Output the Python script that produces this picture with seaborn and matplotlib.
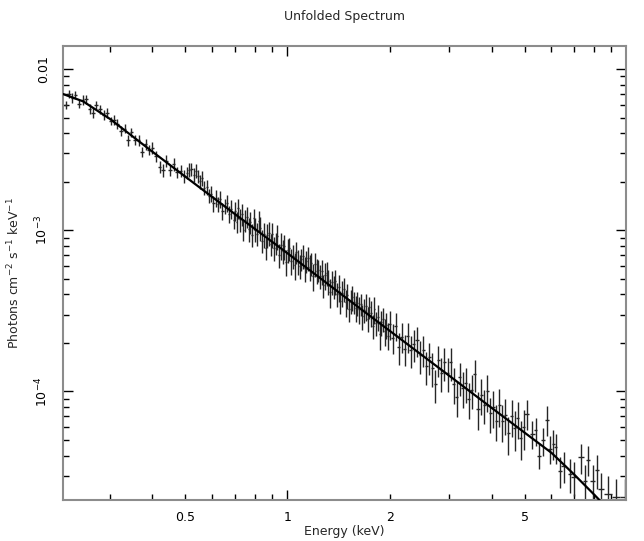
import numpy as np
import pandas as pd
import seaborn as sns
import matplotlib
matplotlib.use("Agg")
import matplotlib.pyplot as plt
from matplotlib.ticker import LogLocator, FuncFormatter, NullFormatter

# ---- data ----
# energies (keV) of the spectral bins
energy_soft = [0.222, 0.227, 0.232, 0.237, 0.243, 0.249, 0.255, 0.261, 0.267, 0.273,
               0.280, 0.287, 0.294, 0.301, 0.308, 0.315, 0.323, 0.331, 0.339, 0.347,
               0.355, 0.364, 0.373, 0.382, 0.391, 0.400, 0.410, 0.420, 0.430, 0.440,
               0.451, 0.462, 0.473, 0.484, 0.496]
energy_low = [0.505, 0.513, 0.521, 0.529, 0.537, 0.545, 0.553, 0.561, 0.569, 0.578,
              0.587, 0.596, 0.605, 0.614, 0.623, 0.633, 0.643, 0.653, 0.663, 0.673,
              0.683, 0.694]
energy_mid = [0.700, 0.708, 0.716, 0.725, 0.733, 0.742, 0.750, 0.759, 0.768, 0.777,
              0.786, 0.795, 0.804, 0.813, 0.823, 0.832, 0.842, 0.852, 0.862, 0.872,
              0.882, 0.892, 0.902, 0.913, 0.923, 0.934, 0.945, 0.956, 0.967, 0.978,
              0.990, 1.001, 1.013, 1.025, 1.037, 1.049, 1.061, 1.073, 1.086, 1.098,
              1.111, 1.124, 1.137, 1.150, 1.164, 1.177, 1.191, 1.205, 1.219, 1.233,
              1.247, 1.262, 1.276, 1.291, 1.306, 1.321, 1.337, 1.352, 1.368, 1.384,
              1.400, 1.416, 1.433, 1.449, 1.466, 1.483, 1.500, 1.518, 1.535, 1.553,
              1.571, 1.589, 1.608, 1.626, 1.645, 1.664, 1.684, 1.703, 1.723, 1.743,
              1.763, 1.784, 1.804, 1.825, 1.847, 1.868, 1.890, 1.912, 1.934, 1.956,
              1.979]
energy_high = [2.000, 2.042, 2.084, 2.128, 2.173, 2.218, 2.264, 2.312, 2.360, 2.409,
               2.460, 2.511, 2.564, 2.617, 2.672, 2.728, 2.785, 2.843, 2.902, 2.963,
               3.025, 3.088, 3.153, 3.219, 3.286, 3.355, 3.425, 3.497, 3.570, 3.644,
               3.721, 3.798, 3.878, 3.959, 4.041, 4.126, 4.212, 4.300, 4.390, 4.482,
               4.575, 4.671, 4.768, 4.868, 4.970]
energy_hard = [5.07, 5.27, 5.39, 5.51, 5.66, 5.81, 5.94, 6.08, 6.17, 6.36,
               6.53, 6.80, 6.97, 7.32, 7.52, 7.69, 7.93, 8.16, 8.39, 8.82,
               9.29, 9.85]

# log10 of the unfolded flux (photons cm^-2 s^-1 keV^-1)
logflux_soft = [-2.221, -2.153, -2.180, -2.162, -2.216, -2.189, -2.187, -2.246, -2.270, -2.223,
                -2.249, -2.283, -2.273, -2.322, -2.314, -2.339, -2.382, -2.369, -2.441, -2.393,
                -2.439, -2.442, -2.514, -2.466, -2.502, -2.488, -2.540, -2.607, -2.628, -2.569,
                -2.626, -2.592, -2.639, -2.630, -2.666]
logflux_low = [-2.644, -2.625, -2.620, -2.656, -2.631, -2.666, -2.696, -2.676, -2.736, -2.732,
               -2.788, -2.773, -2.834, -2.799, -2.839, -2.805, -2.880, -2.851, -2.832, -2.897,
               -2.867, -2.938]
logflux_mid = [-2.879, -2.947, -2.865, -2.933, -2.901, -2.999, -2.937, -2.915, -2.993, -2.950,
               -3.028, -2.926, -2.994, -3.022, -2.940, -2.988, -3.066, -3.024, -3.112, -3.030,
               -3.018, -3.086, -3.024, -3.112, -3.080, -3.038, -3.155, -3.093, -3.131, -3.099,
               -3.197, -3.125, -3.113, -3.191, -3.159, -3.217, -3.135, -3.193, -3.221, -3.179,
               -3.157, -3.235, -3.192, -3.170, -3.228, -3.206, -3.284, -3.212, -3.250, -3.248,
               -3.286, -3.254, -3.342, -3.280, -3.268, -3.316, -3.384, -3.322, -3.350, -3.317,
               -3.395, -3.353, -3.441, -3.389, -3.367, -3.445, -3.403, -3.491, -3.439, -3.417,
               -3.445, -3.483, -3.451, -3.489, -3.457, -3.535, -3.492, -3.470, -3.548, -3.476,
               -3.514, -3.592, -3.490, -3.578, -3.536, -3.644, -3.572, -3.550, -3.628, -3.586,
               -3.654]
logflux_high = [-3.583, -3.667, -3.592, -3.726, -3.660, -3.734, -3.659, -3.743, -3.707, -3.682,
                -3.776, -3.740, -3.844, -3.789, -3.853, -3.957, -3.802, -3.886, -3.820, -3.885,
                -3.819, -3.953, -4.037, -3.912, -3.976, -3.950, -4.045, -3.989, -3.893, -4.107,
                -4.022, -4.086, -4.000, -4.135, -4.099, -4.183, -4.087, -4.182, -4.146, -4.260,
                -4.155, -4.229, -4.163, -4.287, -4.222]
logflux_hard = [-4.139, -4.263, -4.242, -4.398, -4.304, -4.176, -4.356, -4.325, -4.346, -4.491,
                -4.460, -4.511, -4.532, -4.408, -4.553, -4.424, -4.553, -4.486, -4.604, -4.635,
                -4.657, -4.657]

# 1-sigma flux errors, percent
err_soft = [6, 6, 7, 6, 6, 7, 6, 7, 7, 6, 6, 7, 7, 6, 7, 7, 7, 6, 8, 7,
            7, 8, 7, 8, 7, 8, 8, 9, 9, 8, 8, 9, 8, 9, 9]
err_low = [9, 10, 9, 10, 10, 9, 10, 11, 10, 11, 10, 11, 11, 12, 11, 12, 12, 11, 12, 12,
           13, 12]
err_mid = [14, 15, 14, 16, 15, 14, 16, 15, 17, 15, 16, 15, 17, 16, 15, 17, 16, 18, 16, 17,
           17, 16, 18, 17, 16, 18, 17, 19, 17, 18, 18, 17, 16, 18, 17, 19, 16, 18, 17, 16,
           17, 18, 16, 17, 18, 16, 19, 17, 18, 16, 17, 18, 16, 19, 17, 18, 20, 17, 16, 18,
           17, 19, 16, 18, 17, 19, 18, 16, 17, 18, 16, 18, 17, 19, 16, 18, 17, 19, 18, 16,
           18, 17, 19, 17, 18, 20, 18, 17, 19, 18, 19]
err_high = [20, 21, 20, 22, 21, 22, 21, 23, 22, 21, 23, 22, 23, 22, 24, 23, 22, 24, 23, 24,
            23, 25, 24, 23, 25, 24, 25, 24, 22, 26, 25, 24, 26, 25, 26, 25, 27, 26, 25, 27,
            26, 28, 26, 27, 28]
err_hard = [21, 20, 20, 18, 20, 21, 20, 21, 21, 22, 22, 24, 24, 21, 24, 21, 24, 24, 26, 28,
            29, 29]

# folded model curve
model_energy = [0.218, 0.25, 0.3, 0.4, 0.5, 0.7, 1.0, 1.5, 2.0, 3.0, 4.0, 5.0, 6.0, 7.0, 8.0, 9.0, 10.0]
model_flux = [7.0e-3, 6.3e-3, 4.9e-3, 3.07e-3, 2.15e-3, 1.26e-3, 7.2e-4, 3.76e-4, 2.38e-4,
              1.25e-4, 7.9e-5, 5.55e-5, 4.16e-5, 3.05e-5, 2.3e-5, 1.78e-5, 1.38e-5]

# ---- assemble ----
df = pd.DataFrame({
    'energy': energy_soft + energy_low + energy_mid + energy_high + energy_hard,
    'logflux': logflux_soft + logflux_low + logflux_mid + logflux_high + logflux_hard,
    'err_pct': err_soft + err_low + err_mid + err_high + err_hard,
})
df['flux'] = 10 ** df['logflux']
df['yerr'] = df['flux'] * df['err_pct'] / 100
# bin half-widths from neighbouring bins (log spacing)
half = 0.5 * np.gradient(np.log10(df['energy']))
df['xlo'] = df['energy'] * (1 - 10 ** (-half))
df['xhi'] = df['energy'] * (10 ** half - 1)

sns.set_style('ticks')
plt.rcParams['font.family'] = ['DejaVu Sans']
plt.rcParams['mathtext.fontset'] = 'dejavusans'

fig = plt.figure(figsize=(6.44, 5.41), dpi=100)
ax = fig.add_axes([63 / 644, 1 - 500 / 541, 563 / 644, 454 / 541])

ax.errorbar(df['energy'], df['flux'], xerr=[df['xlo'], df['xhi']], yerr=df['yerr'],
            fmt='none', ecolor='0.15', elinewidth=1.0, capsize=0, zorder=2)
sns.lineplot(x=model_energy, y=model_flux, ax=ax, color='black', linewidth=1.6, zorder=3)

ax.set_xscale('log')
ax.set_yscale('log')
ax.set_xlim(0.218, 9.95)
ax.set_ylim(2.12e-5, 1.39e-2)

# x ticks: majors at decades, labels at 0.5, 1, 2, 5
ax.xaxis.set_major_locator(LogLocator(base=10))
ax.xaxis.set_minor_locator(LogLocator(base=10, subs=np.arange(2, 10)))
xlab = {0.5: '0.5', 1.0: '1', 2.0: '2', 5.0: '5'}
def xfmt(v, pos):
    for k, s in xlab.items():
        if abs(v - k) < 1e-6:
            return s
    return ''
ax.xaxis.set_major_formatter(FuncFormatter(xfmt))
ax.xaxis.set_minor_formatter(FuncFormatter(xfmt))

# y ticks
ax.yaxis.set_major_locator(LogLocator(base=10))
ax.yaxis.set_minor_locator(LogLocator(base=10, subs=np.arange(2, 10)))
ylab = {1e-2: '0.01', 1e-3: r'10$^{-3}$', 1e-4: r'10$^{-4}$'}
def yfmt(v, pos):
    for k, s in ylab.items():
        if abs(v / k - 1) < 1e-6:
            return s
    return ''
ax.yaxis.set_major_formatter(FuncFormatter(yfmt))
ax.yaxis.set_minor_formatter(NullFormatter())
for t in ax.get_yticklabels():
    t.set_rotation(90)
    t.set_va('center')

ax.tick_params(which='both', direction='in', top=True, right=True, colors='black',
               labelsize=9, width=1)
ax.tick_params(which='major', length=7)
ax.tick_params(which='minor', length=4)
ax.tick_params(axis='x', which='both', pad=8)
ax.tick_params(axis='y', which='both', pad=9)

for sp in ax.spines.values():
    sp.set_color('0.55')
    sp.set_linewidth(1.5)

ax.set_xlabel('Energy (keV)', fontsize=9)
ax.set_ylabel(r'Photons cm$^{-2}$ s$^{-1}$ keV$^{-1}$', fontsize=9)
ax.xaxis.set_label_coords(0.5, -0.056)
ax.yaxis.set_label_coords(-0.073, 0.5)
ax.set_title('Unfolded Spectrum', fontsize=9, pad=19)

fig.savefig('out.png', dpi=100)
